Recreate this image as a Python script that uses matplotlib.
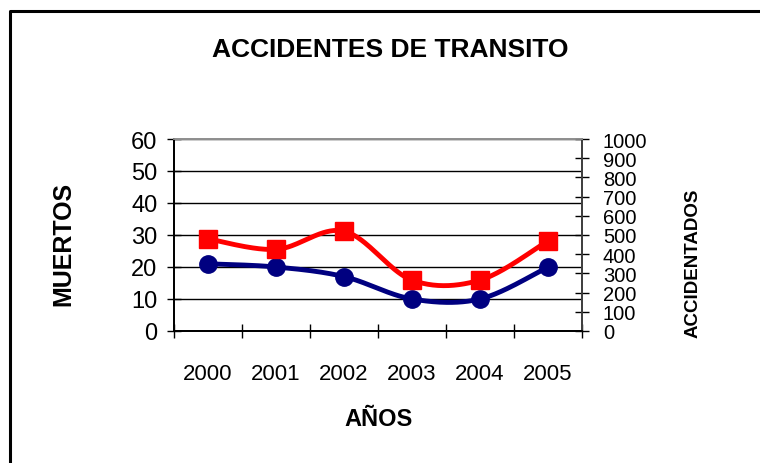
import numpy as np
import matplotlib
matplotlib.use("Agg")
import matplotlib.pyplot as plt

years = ["2000", "2001", "2002", "2003", "2004", "2005"]
muertos = [21, 20, 17, 10, 10, 20]
accidentados = [480, 425, 520, 265, 265, 470]

plt.rcParams['font.family'] = ['Liberation Sans', 'DejaVu Sans']


def smooth(x, y, n=40):
    x = np.asarray(x, float)
    y = np.asarray(y, float)
    px = np.concatenate([[x[0]], x, [x[-1]]])
    py = np.concatenate([[y[0]], y, [y[-1]]])
    xs, ys = [], []
    t = np.linspace(0, 1, n)
    for i in range(1, len(px) - 2):
        p0 = np.array([px[i], py[i]])
        p3 = np.array([px[i + 1], py[i + 1]])
        p1 = p0 + (np.array([px[i + 1], py[i + 1]]) - np.array([px[i - 1], py[i - 1]])) / 6
        p2 = p3 - (np.array([px[i + 2], py[i + 2]]) - np.array([px[i], py[i]])) / 6
        b = ((1 - t) ** 3)[:, None] * p0 + (3 * (1 - t) ** 2 * t)[:, None] * p1 \
            + (3 * (1 - t) * t ** 2)[:, None] * p2 + (t ** 3)[:, None] * p3
        xs.extend(b[:, 0]); ys.extend(b[:, 1])
    return np.array(xs), np.array(ys)


fig = plt.figure(figsize=(7.6, 4.64), dpi=100)
fig.patches.append(plt.Line2D([10 / 760, 10 / 760, 1.0], [0, 1 - 12 / 464, 1 - 12 / 464],
                              transform=fig.transFigure, color='black', lw=2.2))
ax = fig.add_axes([174 / 760, 1 - 332 / 464, 408 / 760, 192 / 464])
ax2 = ax.twinx()

x = np.arange(len(years))
ax.set_xlim(-0.5, len(years) - 0.5)
ax.set_ylim(0, 60)
ax2.set_ylim(0, 1000)
ax.set_yticks(np.arange(0, 61, 10))
ax2.set_yticks(np.arange(0, 1001, 100))
ax.grid(axis='y', color='black', lw=1)
ax.set_axisbelow(True)

ax.set_xticks(np.arange(-0.5, len(years), 1))
ax.set_xticklabels([])
ax.set_xticks(x, minor=True)
ax.set_xticklabels(years, minor=True, fontsize=16)
ax.tick_params(axis='x', which='minor', length=0, pad=23)
ax.tick_params(axis='x', which='major', direction='inout', length=10, width=1)
ax.tick_params(axis='y', direction='inout', length=10, width=1, labelsize=17, pad=7)
ax2.tick_params(axis='y', direction='inout', length=10, width=1, labelsize=14.5, pad=10, colors='black')
for a in (ax, ax2):
    a.spines['top'].set_color('#909090')
    a.spines['right'].set_color('#404040')
    a.spines['left'].set_color('black')
    a.spines['bottom'].set_color('black')
    for s in a.spines.values():
        s.set_linewidth(1.3)

sx, sy = smooth(x, muertos)
ax.plot(sx, sy, color='#000080', lw=3.5, zorder=3)
ax.plot(x, muertos, 'o', color='#000080', ms=12.5, zorder=4)

rx, ry = smooth(x, accidentados)
ax2.plot(rx, ry, color='#ff0000', lw=3.5, zorder=3)
ax2.plot(x, accidentados, 's', color='#ff0000', ms=13, zorder=4)

fig.text(390 / 760, 1 - 50 / 464, "ACCIDENTES DE TRANSITO", ha='center', va='center',
         fontsize=19, fontweight='bold')
fig.text(63 / 760, 1 - 244 / 464, "MUERTOS", rotation=90, ha='center', va='center',
         fontsize=18, fontweight='bold')
fig.text(693 / 760, 1 - 263 / 464, "ACCIDENTADOS", rotation=90, ha='center', va='center',
         fontsize=13.5, fontweight='bold')
fig.text(379 / 760, 1 - 419 / 464, "AÑOS", ha='center', va='center',
         fontsize=17, fontweight='bold')

fig.savefig("out.png", dpi=100)
